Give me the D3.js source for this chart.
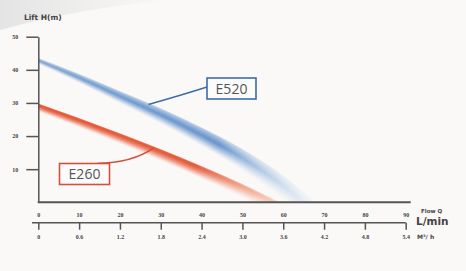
<!DOCTYPE html>
<html>
<head>
<meta charset="utf-8">
<script src="https://cdn.jsdelivr.net/npm/d3@7"></script>
<style>
  body { margin: 0; background: #faf9f7; }
  svg { display: block; }
  .tick text { font-family: "Liberation Serif", serif; font-weight: bold; font-size: 6px; fill: #444; }
  .axis path, .axis line { stroke: #555; stroke-width: 1.5; }
  .lbl { font-family: "DejaVu Sans", sans-serif; font-weight: bold; fill: #444; }
  .box text { font-family: "Open Sans", sans-serif; font-size: 14px; fill: #555; }
</style>
</head>
<body>
<svg id="chart" width="466" height="271"></svg>
<script>
// values
const liftTicks = [10, 20, 30, 40, 50];
const flowTicks = [0, 10, 20, 30, 40, 50, 60, 70, 80, 90];
const m3hLabels = ["0", "0.6", "1.2", "1.8", "2.4", "3.0", "3.6", "4.2", "4.8", "5.4"];

const e520Flow = [0, 10, 20, 30, 40, 50, 60, 68];
const e520Lift = [43.5, 38.7, 33.5, 28.3, 22.5, 16.0, 8.0, 0];
const e260Flow = [0, 10, 20, 30, 40, 50, 59];
const e260Lift = [29.7, 25.3, 20.7, 15.9, 10.8, 5.4, 0];

const svg = d3.select("#chart");

const x = d3.scaleLinear().domain([0, 90]).range([38.3, 405.7]);
const y = d3.scaleLinear().domain([0, 50]).range([202.3, 36.7]);

const defs = svg.append("defs");

// faint gray swoosh in the top-left corner
const swoosh = defs.append("linearGradient").attr("id", "swoosh")
    .attr("x1", 0).attr("y1", 0).attr("x2", 1).attr("y2", 0);
swoosh.append("stop").attr("offset", 0).attr("stop-color", "#e4e4e4");
swoosh.append("stop").attr("offset", 1).attr("stop-color", "#faf9f7");
svg.append("path")
    .attr("d", "M0,0 L170,0 Q80,8 0,30 Z")
    .attr("fill", "url(#swoosh)");

defs.append("clipPath").attr("id", "plotClip")
    .append("rect").attr("x", x(0)).attr("y", 0).attr("width", 380).attr("height", y(0) - 0.5);

// band curves: top edge is the curve, colour fades out below it
const series = [
    {name: "E520", flow: e520Flow, lift: e520Lift, dark: "#3270bd", light: "#a9c9ea",
     w0: 6, w1: 28, peak: 0.4, top: 0.3, fade: [0.25, 1, 0.2]},
    {name: "E260", flow: e260Flow, lift: e260Lift, dark: "#e2441e", light: "#f4a283",
     w0: 8, w1: 15, peak: 0.15, top: 0.75, fade: [0.75, 1, 0.35]}
];

const plot = svg.append("g").attr("clip-path", "url(#plotClip)");

series.forEach((s, i) => {
    const pts = s.flow.map((q, j) => ({q: q, h: s.lift[j]}));
    const xEnd = x(s.flow[s.flow.length - 1]);
    const grad = defs.append("linearGradient").attr("id", "g" + i)
        .attr("gradientUnits", "userSpaceOnUse")
        .attr("x1", x(0)).attr("x2", xEnd).attr("y1", 0).attr("y2", 0);
    grad.append("stop").attr("offset", 0).attr("stop-color", s.dark).attr("stop-opacity", s.fade[0]);
    grad.append("stop").attr("offset", 0.65).attr("stop-color", s.dark).attr("stop-opacity", s.fade[1]);
    grad.append("stop").attr("offset", 1).attr("stop-color", s.light).attr("stop-opacity", s.fade[2]);

    const steps = 50;
    for (let k = steps; k >= 0; k--) {
        const f = k / steps;
        const op = f < s.peak
            ? s.top + (1 - s.top) * f / s.peak
            : Math.pow((1 - f) / (1 - s.peak), 1.6);
        const line = d3.line()
            .curve(d3.curveMonotoneX)
            .x(d => x(d.q))
            .y(d => {
                const t = (x(d.q) - x(0)) / (xEnd - x(0));
                return y(d.h) + f * (s.w0 + (s.w1 - s.w0) * t);
            });
        plot.append("path")
            .attr("d", line(pts))
            .attr("fill", "none")
            .attr("stroke", "url(#g" + i + ")")
            .attr("stroke-width", 1)
            .attr("stroke-opacity", op * 0.45);
    }
});

// y axis
const yAxis = svg.append("g").attr("class", "axis")
    .attr("transform", `translate(${x(0)},0)`)
    .call(d3.axisLeft(y).tickValues(liftTicks).tickSize(12).tickSizeOuter(0));
yAxis.selectAll(".tick text").attr("x", -23).attr("text-anchor", "middle");

// plot baseline
svg.append("line")
    .attr("x1", x(0) - 0.6).attr("x2", x(90) + 5)
    .attr("y1", y(0)).attr("y2", y(0))
    .attr("stroke", "#555").attr("stroke-width", 2);

// flow axis
const axisY = 222.7;
const xAxis = svg.append("g").attr("class", "axis")
    .attr("transform", `translate(0,${axisY})`)
    .call(d3.axisBottom(x).tickValues(flowTicks).tickSize(7).tickSizeOuter(0)
        .tickFormat((d, i) => m3hLabels[i]));
xAxis.select(".domain").remove();
xAxis.selectAll(".tick text").attr("y", 12);
xAxis.append("line").attr("x1", 32).attr("x2", x(90)).attr("y1", 0).attr("y2", 0);

xAxis.selectAll(".tick").append("text")
    .attr("y", -6).attr("text-anchor", "middle")
    .text(d => d);

// axis titles
svg.append("text").attr("class", "lbl").attr("x", 24).attr("y", 20)
    .attr("font-size", 7.5).text("Lift H(m)");
svg.append("text").attr("class", "lbl").attr("x", 421).attr("y", 213)
    .attr("font-size", 5.5).text("Flow Q");
svg.append("text").attr("class", "lbl").attr("x", 416).attr("y", 224.5)
    .attr("font-size", 10.5).text("L/min");
svg.append("text").attr("class", "lbl").attr("x", 417).attr("y", 239)
    .attr("font-size", 6).text("M³/ h");

// label boxes with leaders
const labels = [
    {text: "E520", color: "#3d6ca8", q: 27, box: [207, 78, 49, 21], from: [207, 87], ctrl: [182, 95]},
    {text: "E260", color: "#d2503c", q: 28.3, box: [59.5, 163.5, 50, 21], from: [97, 163.5], ctrl: [132, 163]}
];
labels.forEach((l, i) => {
    const s = series[i];
    const hAt = d3.scaleLinear().domain(s.flow).range(s.lift)(l.q);
    const ax = x(l.q), ay = y(hAt) + 1;
    svg.append("path")
        .attr("d", `M${l.from[0]},${l.from[1]} Q${l.ctrl[0]},${l.ctrl[1]} ${ax},${ay}`)
        .attr("fill", "none").attr("stroke", l.color).attr("stroke-width", 1.6);
    const g = svg.append("g").attr("class", "box");
    g.append("rect")
        .attr("x", l.box[0]).attr("y", l.box[1]).attr("width", l.box[2]).attr("height", l.box[3])
        .attr("fill", "#fbfbfb").attr("stroke", l.color).attr("stroke-width", 1.6);
    g.append("text")
        .attr("x", l.box[0] + l.box[2] / 2).attr("y", l.box[1] + l.box[3] / 2 + 5)
        .attr("text-anchor", "middle").text(l.text);
});
</script>
</body>
</html>
